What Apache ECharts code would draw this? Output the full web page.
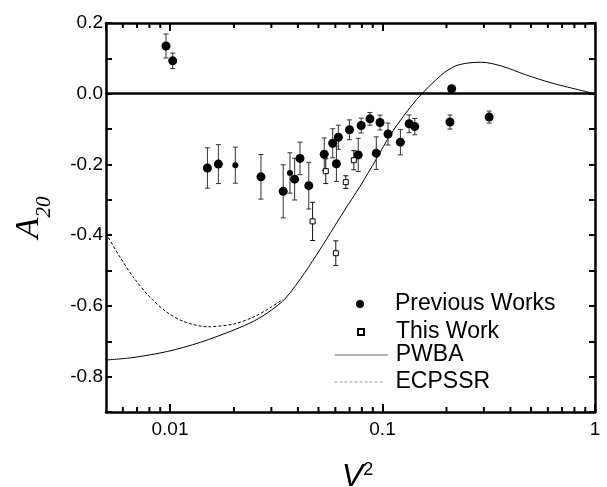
<!DOCTYPE html>
<html>
<head>
<meta charset="utf-8">
<script src="https://cdn.jsdelivr.net/npm/echarts@6/dist/echarts.min.js"></script>
<style>
html,body{margin:0;padding:0;background:#fff;}
#chart{width:607px;height:487px;}
</style>
</head>
<body>
<div id="chart"></div>
<script>
// ---- Data ----
// Previous Works (large dots): x = V^2, y = A20, err = half error bar
const prevX   = [0.00958, 0.0103, 0.0150, 0.0169, 0.0268, 0.0341, 0.0386, 0.0409, 0.0450, 0.0532, 0.0583, 0.0607, 0.0620, 0.0699, 0.0769, 0.0794, 0.0873, 0.0935, 0.0974, 0.1062, 0.1214, 0.1335, 0.1419, 0.2077, 0.3176, 0.2116];
const prevY   = [0.135, 0.093, -0.210, -0.199, -0.235, -0.276, -0.2415, -0.183, -0.260, -0.171, -0.140, -0.198, -0.123, -0.102, -0.173, -0.090, -0.071, -0.168, -0.0815, -0.114, -0.137, -0.085, -0.093, -0.080, -0.066, 0.014];
const prevErr = [0.034, 0.022, 0.057, 0.055, 0.063, 0.075, 0.059, 0.046, 0.066, 0.046, 0.041, 0.050, 0.034, 0.028, 0.047, 0.021, 0.018, 0.046, 0.021, 0.031, 0.036, 0.025, 0.023, 0.020, 0.017, 0];
// Previous Works (small dots)
const prevSmallX   = [0.0203, 0.0367];
const prevSmallY   = [-0.202, -0.224];
const prevSmallErr = [0.051, 0.057];
// This Work (open squares)
const thisX   = [0.0469, 0.0541, 0.0603, 0.0672, 0.0733];
const thisY   = [-0.361, -0.219, -0.451, -0.250, -0.188];
const thisErr = [0.054, 0.035, 0.035, 0.018, 0.027];
// PWBA curve
const pwbaX = [0.005, 0.0067, 0.0097, 0.0139, 0.0200, 0.0250, 0.0300, 0.0350, 0.0432, 0.0547, 0.0654, 0.0784, 0.0935, 0.110, 0.1445, 0.190, 0.2194, 0.2537, 0.2933, 0.3646, 0.470, 0.628, 1.0];
const pwbaY = [-0.753, -0.746, -0.729, -0.703, -0.668, -0.642, -0.612, -0.578, -0.505, -0.410, -0.335, -0.262, -0.185, -0.112, -0.017, 0.054, 0.078, 0.087, 0.089, 0.078, 0.054, 0.030, 0.0];
// ECPSSR curve
const ecpX = [0.005, 0.00582, 0.00673, 0.00807, 0.00968, 0.0116, 0.01497, 0.0200, 0.0250, 0.0300, 0.0340];
const ecpY = [-0.395, -0.462, -0.519, -0.576, -0.618, -0.644, -0.659, -0.651, -0.630, -0.603, -0.581];
// Axes
const xMin = 0.005, xMax = 1;
const yMin = -0.9, yMax = 0.2;
const xMinorTicks = [0.006, 0.007, 0.008, 0.009, 0.02, 0.03, 0.04, 0.05, 0.06, 0.07, 0.08, 0.09, 0.2, 0.3, 0.4, 0.5, 0.6, 0.7, 0.8, 0.9];

// ---- Build ----
const zip3 = (a, b, c) => a.map((v, i) => [v, b[i], c[i]]);
const zip2 = (a, b) => a.map((v, i) => [v, b[i]]);

function errRender(color) {
  return function (params, api) {
    const x = api.value(0), y = api.value(1), e = api.value(2);
    if (!e) return null;
    const top = api.coord([x, y + e]);
    const bot = api.coord([x, y - e]);
    const cw = 2.5;
    const st = { stroke: color, lineWidth: 1 };
    return {
      type: 'group',
      children: [
        { type: 'line', shape: { x1: top[0], y1: top[1], x2: bot[0], y2: bot[1] }, style: st },
        { type: 'line', shape: { x1: top[0] - cw, y1: top[1], x2: top[0] + cw, y2: top[1] }, style: st },
        { type: 'line', shape: { x1: bot[0] - cw, y1: bot[1], x2: bot[0] + cw, y2: bot[1] }, style: st }
      ]
    };
  };
}

function minorTickRender(len) {
  return function (params, api) {
    const x = api.value(0);
    const bot = api.coord([x, yMin]);
    const top = api.coord([x, yMax]);
    const st = { stroke: '#000', lineWidth: 2 };
    return {
      type: 'group',
      children: [
        { type: 'line', shape: { x1: bot[0], y1: bot[1], x2: bot[0], y2: bot[1] - len }, style: st },
        { type: 'line', shape: { x1: top[0], y1: top[1], x2: top[0], y2: top[1] + len }, style: st }
      ]
    };
  };
}

const FONT = "'Liberation Sans', Arial, sans-serif";
const SERIF = "'Liberation Serif', 'Times New Roman', serif";
const chart = echarts.init(document.getElementById('chart'), null, { renderer: 'canvas' });

const legendBase = {
  orient: 'vertical', padding: 0, itemGap: 0, selectedMode: false,
  textStyle: { fontFamily: FONT, fontSize: 23, color: '#000', lineHeight: 24 }
};

const option = {
  backgroundColor: '#fff',
  animation: false,
  grid: { left: 106, right: 12, top: 23, bottom: 75, containLabel: false, outerBoundsMode: 'none' },
  legend: [
    Object.assign({}, legendBase, { left: 356, top: 292, itemWidth: 8, itemHeight: 8,
      data: [{ name: 'Previous Works', icon: 'circle' }],
      textStyle: Object.assign({}, legendBase.textStyle, { padding: [0, 0, 0, 26] }) }),
    Object.assign({}, legendBase, { left: 357, top: 320, itemWidth: 6, itemHeight: 6,
      data: [{ name: 'This Work', icon: 'rect' }],
      textStyle: Object.assign({}, legendBase.textStyle, { padding: [0, 0, 0, 27] }) }),
    Object.assign({}, legendBase, { left: 334, top: 343, itemWidth: 53, itemHeight: 4,
      data: [{ name: 'PWBA', itemStyle: { opacity: 0 }, lineStyle: { color: '#999', width: 1.5 } }],
      textStyle: Object.assign({}, legendBase.textStyle, { padding: [0, 0, 0, 3] }) }),
    Object.assign({}, legendBase, { left: 334, top: 370, itemWidth: 50, itemHeight: 4,
      data: [{ name: 'ECPSSR', itemStyle: { opacity: 0 }, lineStyle: { color: '#999', width: 1 } }],
      textStyle: Object.assign({}, legendBase.textStyle, { padding: [0, 0, 0, 6] }) })
  ],
  xAxis: [
    {
      type: 'log', logBase: 10, min: xMin, max: xMax, position: 'bottom',
      name: '{v|V}{s|2}', nameLocation: 'middle', nameGap: 49,
      nameTextStyle: {
        padding: [0, 0, 0, 14],
        rich: {
          v: { fontFamily: FONT, fontStyle: 'italic', fontSize: 32, color: '#000', lineHeight: 32, verticalAlign: 'bottom' },
          s: { fontFamily: FONT, fontSize: 18, color: '#000', lineHeight: 32, verticalAlign: 'top' }
        }
      },
      axisLine: { show: true, onZero: false, lineStyle: { color: '#000', width: 2.5 } },
      axisTick: { show: true, inside: true, length: 8, lineStyle: { color: '#000', width: 2 } },
      axisLabel: { show: true, showMinLabel: false, margin: 8, fontFamily: FONT, fontSize: 19, color: '#000',
        formatter: v => String(+(+v).toPrecision(3)) },
      splitLine: { show: false }, minorTick: { show: false }
    },
    {
      type: 'log', logBase: 10, min: xMin, max: xMax, position: 'top',
      axisLine: { show: true, onZero: false, lineStyle: { color: '#000', width: 2.5 } },
      axisTick: { show: true, inside: true, length: 8, lineStyle: { color: '#000', width: 2 } },
      axisLabel: { show: false }, splitLine: { show: false }
    }
  ],
  yAxis: [
    {
      type: 'value', min: yMin, max: yMax, interval: 0.1, position: 'left',
      name: '{a|A}{b|20}', nameLocation: 'middle', nameGap: 58, nameRotate: 90,
      nameTextStyle: {
        rich: {
          a: { fontFamily: SERIF, fontStyle: 'italic', fontSize: 34, color: '#000', lineHeight: 36, verticalAlign: 'top' },
          b: { fontFamily: SERIF, fontStyle: 'italic', fontSize: 21, color: '#000', lineHeight: 22, verticalAlign: 'top', padding: [22, 0, 0, 0] }
        }
      },
      axisLine: { show: true, onZero: false, lineStyle: { color: '#000', width: 2.5 } },
      axisTick: { show: true, inside: true, length: 6, lineStyle: { color: '#000', width: 2 } },
      axisLabel: { show: true, margin: 3, fontFamily: FONT, fontSize: 19, color: '#000',
        formatter: v => { const r = Math.round(v * 10); return (r % 2 !== 0) ? '' : (r / 10).toFixed(1); } },
      splitLine: { show: false }
    },
    {
      type: 'value', min: yMin, max: yMax, interval: 0.1, position: 'right',
      axisLine: { show: true, onZero: false, lineStyle: { color: '#000', width: 2.5 } },
      axisTick: { show: true, inside: true, length: 6, lineStyle: { color: '#000', width: 2 } },
      axisLabel: { show: false }, splitLine: { show: false }
    }
  ],
  series: [
    {
      name: 'PWBA', type: 'line', data: zip2(pwbaX, pwbaY), smooth: 0.3,
      showSymbol: false, symbol: 'none', z: 3,
      itemStyle: { color: '#000' },
      lineStyle: { color: '#000', width: 1 },
      markLine: {
        silent: true, symbol: 'none', label: { show: false },
        lineStyle: { color: '#000', width: 2.5, type: 'solid' },
        data: [{ yAxis: 0 }]
      }
    },
    {
      name: 'ECPSSR', type: 'line', data: zip2(ecpX, ecpY), smooth: 0.3,
      showSymbol: false, symbol: 'none', z: 3,
      itemStyle: { color: '#000' },
      lineStyle: { color: '#000', width: 1, type: [3, 2] }
    },
    {
      name: 'prevErr', type: 'custom', z: 4, silent: true,
      data: zip3(prevX, prevY, prevErr).concat(zip3(prevSmallX, prevSmallY, prevSmallErr)),
      renderItem: errRender('#333')
    },
    {
      name: 'thisErr', type: 'custom', z: 4, silent: true,
      data: zip3(thisX, thisY, thisErr),
      renderItem: errRender('#111')
    },
    {
      name: 'Previous Works', type: 'scatter', z: 5,
      data: zip2(prevX, prevY), symbol: 'circle', symbolSize: 9,
      itemStyle: { color: '#000', opacity: 1 }
    },
    {
      name: 'Previous Works', type: 'scatter', z: 5,
      data: zip2(prevSmallX, prevSmallY), symbol: 'circle', symbolSize: 6,
      itemStyle: { color: '#000', opacity: 1 }
    },
    {
      name: 'This Work', type: 'scatter', z: 6,
      data: zip2(thisX, thisY), symbol: 'rect', symbolSize: 5,
      itemStyle: { color: '#fff', borderColor: '#000', borderWidth: 1, opacity: 1 }
    },
    {
      name: 'xMinor', type: 'custom', z: 4, silent: true,
      data: xMinorTicks.map(v => [v, -0.35, 1]),
      renderItem: minorTickRender(5)
    }
  ]
};
chart.setOption(option);
</script>
</body>
</html>
